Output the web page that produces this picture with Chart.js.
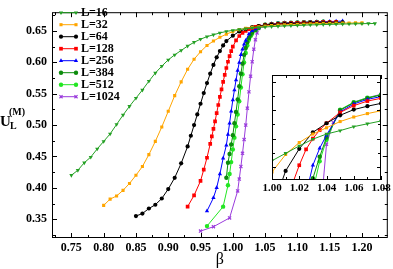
<!DOCTYPE html>
<html>
<head>
<meta charset="utf-8">
<script src="https://cdn.jsdelivr.net/npm/chart.js@4.4.1/dist/chart.umd.min.js"></script>
<style>
    html, body { margin: 0; padding: 0; background: #fff; }
    #wrap { position: relative; width: 393px; height: 269px; }
    #wrap canvas { position: absolute; left: 0; top: 0; }
</style>
</head>
<body>
<div id="wrap">
    <canvas id="mainChart" width="393" height="269"></canvas>
    <canvas id="insetChart" width="393" height="269"></canvas>
</div>
<script>
// values (beta, U_L^(M))
const beta16 = [0.75, 0.76, 0.77, 0.78, 0.79, 0.80, 0.81, 0.82, 0.83, 0.84, 0.85, 0.86, 0.87, 0.88, 0.89, 0.90, 0.91, 0.92, 0.93, 0.94, 0.95, 0.96, 0.97, 0.98, 0.99,
    1.00, 1.01, 1.02, 1.03, 1.04, 1.05, 1.06, 1.07, 1.08, 1.09, 1.10, 1.11, 1.12, 1.13, 1.14, 1.15, 1.16, 1.17, 1.18, 1.19, 1.20, 1.21, 1.22];
const u16 = [0.420, 0.428, 0.440, 0.449, 0.462, 0.474, 0.486, 0.501, 0.516, 0.530, 0.543, 0.556, 0.570, 0.583, 0.594, 0.604, 0.612, 0.619, 0.626, 0.632, 0.637, 0.641, 0.644, 0.647, 0.6493,
    0.6511, 0.6524, 0.6537, 0.6549, 0.6558, 0.6564, 0.6571, 0.6576, 0.6581, 0.6585, 0.6589, 0.6593, 0.6597, 0.6600, 0.6603, 0.6606, 0.6609, 0.6611, 0.6613, 0.6615, 0.6617, 0.6619, 0.6620];

const beta32 = [0.80, 0.81, 0.82, 0.83, 0.84, 0.85, 0.86, 0.87, 0.88, 0.89, 0.90, 0.91, 0.92, 0.93, 0.94, 0.95, 0.96, 0.97, 0.98, 0.99,
    1.00, 1.01, 1.02, 1.03, 1.04, 1.05, 1.06, 1.07, 1.08, 1.09, 1.10, 1.11, 1.12, 1.13, 1.14, 1.15, 1.16, 1.17, 1.18, 1.19, 1.20];
const u32 = [0.372, 0.382, 0.387, 0.396, 0.407, 0.420, 0.434, 0.453, 0.474, 0.497, 0.522, 0.547, 0.569, 0.589, 0.605, 0.617, 0.627, 0.634, 0.640, 0.6450,
    0.6491, 0.6522, 0.6543, 0.6558, 0.6569, 0.6580, 0.6588, 0.6594, 0.6599, 0.6604, 0.6608, 0.6612, 0.6615, 0.6618, 0.6621, 0.6623, 0.6625, 0.6627, 0.6628, 0.6629, 0.6630];

const beta64 = [0.85, 0.86, 0.87, 0.88, 0.89, 0.90, 0.91, 0.92, 0.93, 0.935, 0.94, 0.945, 0.95, 0.955, 0.96, 0.965, 0.97, 0.975, 0.98, 0.985, 0.99,
    1.00, 1.01, 1.02, 1.03, 1.04, 1.05, 1.06, 1.07, 1.08, 1.09, 1.10, 1.11, 1.12, 1.13, 1.14, 1.15, 1.16, 1.17];
const u64 = [0.355, 0.359, 0.367, 0.373, 0.383, 0.398, 0.416, 0.439, 0.466, 0.483, 0.500, 0.517, 0.534, 0.551, 0.567, 0.582, 0.596, 0.608, 0.618, 0.627, 0.634,
    0.6425, 0.6493, 0.6532, 0.6561, 0.6577, 0.6591, 0.6601, 0.6607, 0.6612, 0.6616, 0.6620, 0.6623, 0.6626, 0.6628, 0.6631, 0.6633, 0.6635, 0.6637];

const beta128 = [0.93, 0.94, 0.95, 0.955, 0.96, 0.965, 0.9675, 0.97, 0.9725, 0.975, 0.9775, 0.98, 0.9825, 0.985, 0.9875, 0.99, 0.9925, 0.995, 0.9975,
    1.00, 1.005, 1.01, 1.015, 1.02, 1.025, 1.03, 1.035, 1.04, 1.05, 1.06, 1.07, 1.08, 1.09, 1.10, 1.11, 1.12, 1.13, 1.14, 1.15, 1.16];
const u128 = [0.370, 0.388, 0.411, 0.429, 0.448, 0.470, 0.482, 0.494, 0.506, 0.519, 0.532, 0.545, 0.557, 0.569, 0.580, 0.591, 0.601, 0.610, 0.618,
    0.625, 0.635, 0.642, 0.6470, 0.6503, 0.6531, 0.6550, 0.6565, 0.6577, 0.6596, 0.6608, 0.6616, 0.6621, 0.6626, 0.6630, 0.6633, 0.6636, 0.6638, 0.6641, 0.6643, 0.6645];

const beta256 = [0.96, 0.97, 0.975, 0.98, 0.985, 0.99, 0.9925, 0.995, 0.9975, 1.00, 1.0025, 1.005, 1.0075, 1.01, 1.0125, 1.015, 1.0175, 1.02,
    1.025, 1.03, 1.035, 1.04, 1.05, 1.06, 1.07, 1.08, 1.09, 1.10, 1.11, 1.12, 1.13, 1.14, 1.15, 1.16, 1.17];
const u256 = [0.363, 0.384, 0.400, 0.422, 0.447, 0.468, 0.485, 0.503, 0.522, 0.540, 0.556, 0.572, 0.587, 0.600, 0.612, 0.621, 0.629, 0.635,
    0.6452, 0.6503, 0.6533, 0.6556, 0.6597, 0.6611, 0.6619, 0.6624, 0.6629, 0.6633, 0.6637, 0.6641, 0.6644, 0.6648, 0.6651, 0.6654, 0.6658];

const beta384 = [0.99, 0.9925, 0.995, 0.9975, 1.00, 1.0025, 1.005, 1.0075, 1.01, 1.0125, 1.015, 1.0175, 1.02, 1.0225, 1.025, 1.0275,
    1.03, 1.035, 1.04, 1.05, 1.06, 1.07, 1.08, 1.09, 1.10, 1.11, 1.12, 1.13, 1.14];
const u384 = [0.416, 0.440, 0.454, 0.469, 0.484, 0.503, 0.521, 0.541, 0.562, 0.582, 0.598, 0.612, 0.623, 0.632, 0.639, 0.644,
    0.6480, 0.6518, 0.6552, 0.6600, 0.6613, 0.6621, 0.6627, 0.6630, 0.6634, 0.6638, 0.6641, 0.6644, 0.6647];

const beta512 = [0.96, 0.985, 0.9925, 0.995, 0.9975, 1.00, 1.0025, 1.005, 1.0075, 1.01, 1.0125, 1.015, 1.0175, 1.02, 1.0225, 1.025, 1.0275,
    1.03, 1.035, 1.04, 1.05, 1.06, 1.07, 1.08, 1.09, 1.10, 1.11, 1.12, 1.13, 1.14];
const u512 = [0.339, 0.370, 0.404, 0.422, 0.441, 0.461, 0.480, 0.498, 0.517, 0.538, 0.560, 0.581, 0.600, 0.615, 0.627, 0.636, 0.6415,
    0.6458, 0.6510, 0.6548, 0.6601, 0.6614, 0.6622, 0.6627, 0.6631, 0.6635, 0.6639, 0.6642, 0.6645, 0.6648];

const beta1024 = [0.95, 0.97, 0.995, 1.0075, 1.01, 1.0125, 1.015, 1.0175, 1.02, 1.0225, 1.025, 1.0275, 1.03, 1.0325, 1.035, 1.0375,
    1.04, 1.045, 1.05, 1.06, 1.07, 1.08, 1.09, 1.10, 1.11, 1.12, 1.13, 1.14];
const u1024 = [0.331, 0.338, 0.352, 0.395, 0.414, 0.434, 0.455, 0.477, 0.500, 0.527, 0.553, 0.578, 0.601, 0.621, 0.636, 0.6470,
    0.6540, 0.6578, 0.6600, 0.6614, 0.6622, 0.6628, 0.6632, 0.6636, 0.6640, 0.6643, 0.6646, 0.6649];

const labels = ['L=16', 'L=32', 'L=64', 'L=128', 'L=256', 'L=384', 'L=512', 'L=1024'];

// tick labels
const mainXTicks = [0.75, 0.80, 0.85, 0.90, 0.95, 1.00, 1.05, 1.10, 1.15, 1.20];
const mainYTicks = [0.35, 0.40, 0.45, 0.50, 0.55, 0.60, 0.65];
const insetXTicks = [1.00, 1.02, 1.04, 1.06, 1.08];
const insetYTicks = [0.650, 0.655, 0.660, 0.665];

const serif = '"Liberation Serif", "Times New Roman", serif';

const styles = [
    { color: '#24a024', pointStyle: 'triangle', radius: 2.4, rotation: 180, bw: 0 },
    { color: '#ffa500', pointStyle: 'rect', radius: 2.2, rotation: 0, bw: 0 },
    { color: '#000000', pointStyle: 'circle', radius: 2.1, rotation: 0, bw: 0 },
    { color: '#ff0000', pointStyle: 'rect', radius: 2.6, rotation: 0, bw: 0 },
    { color: '#0000ff', pointStyle: 'triangle', radius: 2.5, rotation: 0, bw: 0 },
    { color: '#0c8c0c', pointStyle: 'circle', radius: 2.2, rotation: 0, bw: 0 },
    { color: '#22e622', pointStyle: 'circle', radius: 2.2, rotation: 0, bw: 0 },
    { color: '#9a3bdc', pointStyle: 'crossRot', radius: 2.2, rotation: 0, bw: 1.2 }
];

const betas = [beta16, beta32, beta64, beta128, beta256, beta384, beta512, beta1024];
const values = [u16, u32, u64, u128, u256, u384, u512, u1024];

const buildDatasets = (clip) => labels.map((label, i) => ({
    label: label,
    data: betas[i].map((b, j) => ({ x: b, y: values[i][j] })),
    borderColor: styles[i].color,
    backgroundColor: styles[i].color,
    pointBackgroundColor: styles[i].color,
    pointBorderColor: styles[i].color,
    pointStyle: styles[i].pointStyle,
    pointRadius: styles[i].radius,
    pointRotation: styles[i].rotation,
    pointBorderWidth: styles[i].bw,
    borderWidth: 1,
    tension: 0,
    clip: clip
}));

const minorTicks = (major, min, max) => {
    const step = major[1] - major[0];
    const out = [];
    for (let v = major[0] - step / 2; v <= max + 1e-9; v += step) {
        if (v >= min - 1e-9) out.push(v);
    }
    return out;
};

// frame with inward ticks on all four sides
const makeFrame = (cfg) => ({
    id: 'frame',
    beforeDatasetsDraw(chart) {
        if (!cfg.fill) return;
        const { ctx, chartArea: a } = chart;
        ctx.save();
        ctx.fillStyle = '#fff';
        ctx.fillRect(a.left, a.top, a.width, a.height);
        ctx.restore();
    },
    afterDraw(chart) {
        const { ctx, chartArea: a, scales: { x, y } } = chart;
        ctx.save();
        ctx.strokeStyle = '#000';
        ctx.lineWidth = 1;
        ctx.beginPath();
        const xt = (v, len) => {
            const px = Math.round(x.getPixelForValue(v)) + 0.5;
            ctx.moveTo(px, a.bottom); ctx.lineTo(px, a.bottom - len);
            ctx.moveTo(px, a.top); ctx.lineTo(px, a.top + len);
        };
        const yt = (v, len) => {
            const py = Math.round(y.getPixelForValue(v)) + 0.5;
            ctx.moveTo(a.left, py); ctx.lineTo(a.left + len, py);
            ctx.moveTo(a.right, py); ctx.lineTo(a.right - len, py);
        };
        cfg.xMajor.forEach(v => xt(v, cfg.major));
        minorTicks(cfg.xMajor, x.min, x.max).forEach(v => xt(v, cfg.minor));
        cfg.yMajor.forEach(v => yt(v, cfg.major));
        minorTicks(cfg.yMajor, y.min, y.max).forEach(v => yt(v, cfg.minor));
        ctx.stroke();
        ctx.strokeRect(a.left + 0.5, a.top + 0.5, a.width - 1, a.height - 1);
        ctx.restore();
    }
});

const legendBox = {
    id: 'legendBox',
    afterDraw(chart) {
        const ctx = chart.ctx;
        chart.data.datasets.forEach((ds, i) => {
            const y = 12.7 + i * 12;
            ctx.save();
            ctx.strokeStyle = ds.borderColor;
            ctx.lineWidth = 1;
            ctx.beginPath();
            ctx.moveTo(60, y);
            ctx.lineTo(77, y);
            ctx.stroke();
            ctx.fillStyle = ds.pointBackgroundColor;
            ctx.lineWidth = ds.pointBorderWidth || 1;
            [61, 76].forEach(px => {
                Chart.helpers.drawPoint(ctx, {
                    pointStyle: ds.pointStyle, radius: ds.pointRadius,
                    rotation: ds.pointRotation, borderWidth: ds.pointBorderWidth
                }, px, y);
            });
            ctx.fillStyle = '#000';
            ctx.font = 'bold 12px ' + serif;
            ctx.textBaseline = 'middle';
            ctx.textAlign = 'left';
            ctx.fillText(ds.label, 81, y + 0.5);
            ctx.restore();
        });
    }
};

const yTitle = {
    id: 'yTitle',
    afterDraw(chart) {
        const ctx = chart.ctx;
        ctx.save();
        ctx.fillStyle = '#000';
        ctx.textAlign = 'left';
        ctx.textBaseline = 'alphabetic';
        ctx.font = 'bold 15px ' + serif;
        ctx.fillText('U', 0, 126);
        ctx.font = 'bold 10px ' + serif;
        ctx.fillText('L', 10, 129);
        ctx.fillText('(M)', 9, 115);
        ctx.restore();
    }
};

const tickFont = { family: serif, size: 12, weight: 'bold' };

new Chart(document.getElementById('mainChart'), {
    type: 'line',
    data: { datasets: buildDatasets(undefined) },
    options: {
        responsive: false,
        animation: false,
        devicePixelRatio: 1,
        layout: { padding: { left: 0, right: 1, top: 1, bottom: 0 } },
        plugins: { legend: { display: false }, tooltip: { enabled: false } },
        scales: {
            x: {
                type: 'linear', min: 0.72, max: 1.24,
                grid: { display: false, drawTicks: false }, border: { display: false },
                afterBuildTicks: s => { s.ticks = mainXTicks.map(v => ({ value: v })); },
                afterFit: s => { s.height = 31; },
                ticks: { font: tickFont, color: '#000', padding: 3, autoSkip: false, maxRotation: 0, callback: v => v.toFixed(2) },
                title: { display: true, text: 'β', font: { family: serif, size: 16 }, color: '#000', padding: 0 }
            },
            y: {
                type: 'linear', min: 0.32, max: 0.68,
                grid: { display: false, drawTicks: false }, border: { display: false },
                afterBuildTicks: s => { s.ticks = mainYTicks.map(v => ({ value: v })); },
                afterFit: s => { s.width = 52; },
                ticks: { font: tickFont, color: '#000', padding: 5, callback: v => v.toFixed(2) }
            }
        }
    },
    plugins: [makeFrame({ xMajor: mainXTicks, yMajor: mainYTicks, major: 5, minor: 3, fill: false }), legendBox, yTitle]
});

new Chart(document.getElementById('insetChart'), {
    type: 'line',
    data: { datasets: buildDatasets(0) },
    options: {
        responsive: false,
        animation: false,
        devicePixelRatio: 1,
        layout: { padding: { left: 272, right: 12, top: 75, bottom: 0 } },
        plugins: { legend: { display: false }, tooltip: { enabled: false } },
        events: [],
        scales: {
            x: {
                type: 'linear', min: 1.00, max: 1.08,
                grid: { display: false, drawTicks: false }, border: { display: false },
                afterBuildTicks: s => { s.ticks = insetXTicks.map(v => ({ value: v })); },
                afterFit: s => { s.height = 89; },
                ticks: { font: { family: serif, size: 11, weight: 'bold' }, color: '#000', padding: 2, autoSkip: false, maxRotation: 0, minRotation: 0, callback: v => v.toFixed(2) }
            },
            y: {
                type: 'linear', min: 0.6477, max: 0.6662, display: false
            }
        }
    },
    plugins: [makeFrame({ xMajor: insetXTicks, yMajor: insetYTicks, major: 4, minor: 3, fill: true })]
});
</script>
</body>
</html>
